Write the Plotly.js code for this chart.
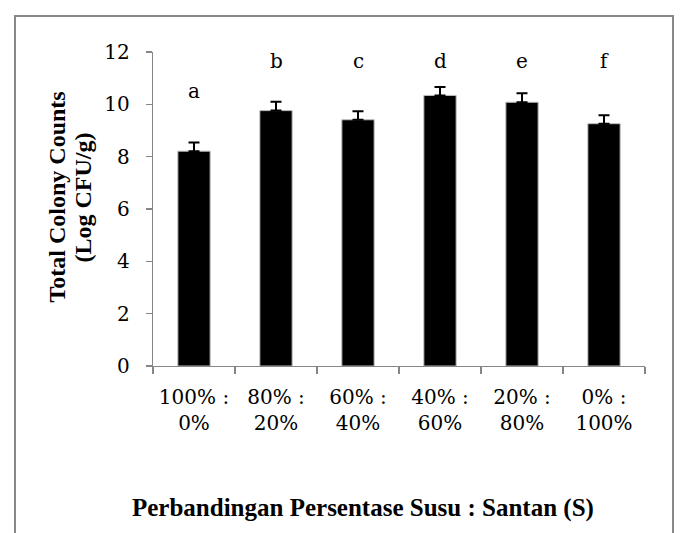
<!DOCTYPE html>
<html>
<head>
<meta charset="utf-8">
<script src="https://cdn.plot.ly/plotly-3.0.1.min.js"></script>
<style>
  html, body { margin: 0; padding: 0; background: #ffffff; }
  #chart { width: 680px; height: 533px; }
</style>
</head>
<body>
<div id="chart"></div>
<script>
// ---- data ----
const categories = ['100% :<br>0%', '80% :<br>20%', '60% :<br>40%', '40% :<br>60%', '20% :<br>80%', '0% :<br>100%'];
const values = [8.21, 9.76, 9.41, 10.34, 10.08, 9.26];
const errors = [0.33, 0.34, 0.33, 0.32, 0.34, 0.32];
const letters = ['a', 'b', 'c', 'd', 'e', 'f'];
const yTicks = [0, 2, 4, 6, 8, 10, 12];
const yTitleLines = ['Total Colony Counts', '(Log CFU/g)'];
const xTitle = 'Perbandingan Persentase Susu : Santan (S)';

// ---- layout geometry ----
const W = 680, H = 533;
const M = { l: 153, r: 35, t: 52, b: 167 };
const plotW = W - M.l - M.r, plotH = H - M.t - M.b;
const px = x => (x - M.l) / plotW;            // pixel -> paper x
const py = y => (H - M.b - y) / plotH;        // pixel -> paper y

const tickFont = { family: 'DejaVu Serif', size: 20, color: '#000000' };
const titleFont = { family: 'Liberation Serif', size: 25, color: '#000000', weight: 'bold' };
const yTitleFont = { family: 'Liberation Serif', size: 24, color: '#000000', weight: 'bold' };
const axisGray = '#868686';

const trace = {
  type: 'bar',
  x: categories,
  y: values,
  marker: { color: '#000000', line: { color: '#bdbdbd', width: 1 } },
  error_y: {
    type: 'data', symmetric: false,
    array: errors, arrayminus: errors.map(() => 0),
    color: '#000000', thickness: 2, width: 5.5
  },
  hoverinfo: 'skip'
};

const annotations = letters.map((t, i) => ({
  x: categories[i], xref: 'x',
  y: i === 0 ? 10.52 : 11.66, yref: 'y',
  text: t, showarrow: false,
  font: tickFont, xanchor: 'center', yanchor: 'middle'
}));

annotations.push({
  x: px(363), y: py(508), xref: 'paper', yref: 'paper',
  text: '<b>' + xTitle + '</b>', showarrow: false,
  font: titleFont, xanchor: 'center', yanchor: 'middle'
});
annotations.push({
  x: px(57), y: py(197.5), xref: 'paper', yref: 'paper',
  text: '<b>' + yTitleLines[0] + '</b>', showarrow: false, textangle: -90,
  font: yTitleFont, xanchor: 'center', yanchor: 'middle'
});
annotations.push({
  x: px(83), y: py(197.5), xref: 'paper', yref: 'paper',
  text: '<b>' + yTitleLines[1] + '</b>', showarrow: false, textangle: -90,
  font: yTitleFont, xanchor: 'center', yanchor: 'middle'
});

const shapes = [{
  type: 'path', xref: 'paper', yref: 'paper',
  path: 'M ' + px(15) + ' ' + py(540) + ' L ' + px(15) + ' ' + py(16) +
        ' L ' + px(673) + ' ' + py(16) + ' L ' + px(673) + ' ' + py(540),
  line: { color: '#888888', width: 2 }
}];

const layout = {
  width: W, height: H,
  margin: M,
  paper_bgcolor: '#ffffff', plot_bgcolor: '#ffffff',
  showlegend: false,
  bargap: 0.606,
  xaxis: {
    type: 'category',
    showline: true, linecolor: axisGray, linewidth: 1.3,
    ticks: 'outside', tickson: 'boundaries', ticklen: 7, tickcolor: axisGray, tickwidth: 1.3,
    tickfont: tickFont, showgrid: false, zeroline: false, fixedrange: true,
    ticklabelstandoff: 13
  },
  yaxis: {
    range: [0, 12], tickvals: yTicks, ticktext: yTicks.map(String),
    showline: true, linecolor: axisGray, linewidth: 1.3,
    ticks: 'outside', ticklen: 6, tickcolor: axisGray, tickwidth: 1.3,
    tickfont: tickFont, showgrid: false, zeroline: false, fixedrange: true,
    ticklabelstandoff: 12
  },
  annotations: annotations,
  shapes: shapes
};

Plotly.newPlot('chart', [trace], layout, { displayModeBar: false, staticPlot: true });
</script>
</body>
</html>
